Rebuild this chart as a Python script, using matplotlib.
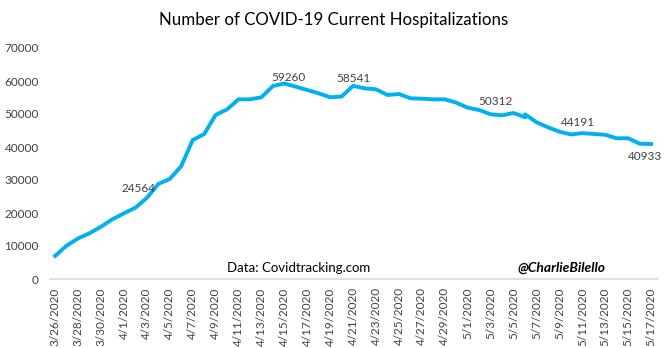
import matplotlib
matplotlib.use("Agg")
import matplotlib.pyplot as plt
import pandas as pd

# daily current hospitalizations (5/6 appears twice in the source sheet)
dates = ["2020-03-26", "2020-03-27", "2020-03-28", "2020-03-29", "2020-03-30",
         "2020-03-31", "2020-04-01", "2020-04-02", "2020-04-03", "2020-04-04",
         "2020-04-05", "2020-04-06", "2020-04-07", "2020-04-08", "2020-04-09",
         "2020-04-10", "2020-04-11", "2020-04-12", "2020-04-13", "2020-04-14",
         "2020-04-15", "2020-04-16", "2020-04-17", "2020-04-18", "2020-04-19",
         "2020-04-20", "2020-04-21", "2020-04-22", "2020-04-23", "2020-04-24",
         "2020-04-25", "2020-04-26", "2020-04-27", "2020-04-28", "2020-04-29",
         "2020-04-30", "2020-05-01", "2020-05-02", "2020-05-03", "2020-05-04",
         "2020-05-05", "2020-05-06", "2020-05-06", "2020-05-07", "2020-05-08",
         "2020-05-09", "2020-05-10", "2020-05-11", "2020-05-12", "2020-05-13",
         "2020-05-14", "2020-05-15", "2020-05-16", "2020-05-17"]
hospitalized = [7000, 10100, 12300, 13850, 15850, 18100, 19900, 21600, 24564, 28800,
                30300, 34200, 42100, 43900, 49700, 51400, 54450, 54450, 55060, 58480,
                59260, 58280, 57270, 56260, 55060, 55300, 58541, 57780, 57480, 55760,
                56060, 54750, 54640, 54440, 54440, 53430, 51910, 51210, 49900, 49600,
                50312, 49000, 49900, 47500, 45970, 44640, 43800, 44191, 43950, 43700,
                42640, 42640, 41000, 40933]

# labelled points: date -> offset of the label in pixels
label_dates = ["2020-04-03", "2020-04-15", "2020-04-21", "2020-05-05", "2020-05-11", "2020-05-17"]
label_offsets = [(-8, 9), (4, 6), (0, 7), (-18, 11), (-4, 11), (-6, -13)]

font = "Lato"
plt.rcParams["font.family"] = [font, "DejaVu Sans"]

d = pd.to_datetime(dates)
x = (d - d[0]).days

fig = plt.figure(figsize=(6.7, 3.48), dpi=100)
ax = fig.add_axes([50 / 670, 1 - 279 / 348, 608 / 670, 231 / 348])

ax.plot(x, hospitalized, color="#00B0F0", linewidth=2.8, solid_joinstyle="round")

for ld, off in zip(label_dates, label_offsets):
    i = dates.index(ld)
    ax.annotate(f"{hospitalized[i]}", (x[i], hospitalized[i]), xytext=off,
                textcoords="offset pixels", ha="center", va="center",
                fontsize=8.5, color="#404040")

ax.set_ylim(0, 70000)
ax.set_yticks(range(0, 70001, 10000))
ax.set_xlim(-0.45, 52.6)
all_days = pd.date_range(dates[0], dates[-1])
tick_days = all_days[::2]
ax.set_xticks((tick_days - d[0]).days)
ax.set_xticklabels([f"{t.month}/{t.day}/{t.year}" for t in tick_days], rotation=90)
ax.tick_params(axis="both", length=0, labelsize=8.5, labelcolor="#404040")
ax.tick_params(axis="x", pad=6)
ax.tick_params(axis="y", pad=8)

for s in ["top", "right", "left"]:
    ax.spines[s].set_visible(False)
ax.spines["bottom"].set_color("#D9D9D9")
ax.spines["bottom"].set_linewidth(1.2)

fig.text(334 / 670, 1 - 20 / 348, "Number of COVID-19 Current Hospitalizations",
         ha="center", va="center", fontsize=12.2, color="black")
fig.text(299 / 670, 1 - 268 / 348, "Data: Covidtracking.com",
         ha="center", va="center", fontsize=9.5, color="black")
fig.text(561 / 670, 1 - 268 / 348, "@CharlieBilello",
         ha="center", va="center", fontsize=10, color="black",
         fontweight="bold", fontstyle="italic")

fig.savefig("out.png", dpi=100)
